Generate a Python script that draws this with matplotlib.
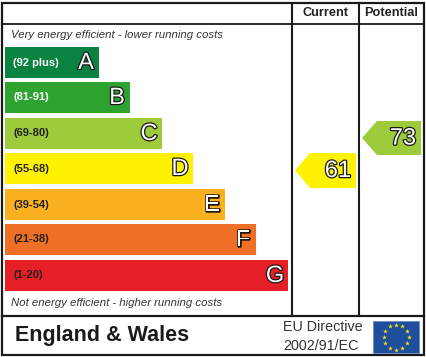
import numpy as np
import matplotlib
matplotlib.use("Agg")
import matplotlib.pyplot as plt
import matplotlib.patheffects as pe
from matplotlib.patches import Polygon, Rectangle

plt.rcParams['font.family'] = ['Liberation Sans', 'DejaVu Sans']

# Bands
letters = ["A", "B", "C", "D", "E", "F", "G"]
ranges = ["(92 plus)", "(81-91)", "(69-80)", "(55-68)", "(39-54)", "(21-38)", "(1-20)"]
bar_right = [99, 130, 162, 193, 225, 256, 288]
bar_top = [47, 82, 118, 153, 189, 224, 260]
colors = ["#0a8341", "#2ea32f", "#9dcb3c", "#fff200", "#fbb11f", "#f06f26", "#e61e26"]
range_colors = ["white", "white", "#222222", "#222222", "#222222", "#222222", "#222222"]

current = 61
potential = 73
current_color = "#fff200"
potential_color = "#9dcb3c"

fig = plt.figure(figsize=(4.26, 3.57), dpi=100)
ax = fig.add_axes([0, 0, 1, 1])
ax.set_xlim(0, 426)
ax.set_ylim(357, 0)
ax.axis("off")

# frame
line_col = "#1a1a1a"
ax.add_patch(Rectangle((1.5, 3), 422, 351.5, fill=False, ec=line_col, lw=1.6))
ax.plot([1.5, 423.5], [24, 24], color=line_col, lw=1.3)
ax.plot([1.5, 423.5], [316, 316], color=line_col, lw=1.6)
ax.plot([292, 292], [3, 316], color=line_col, lw=1.5)
ax.plot([359, 359], [3, 316], color=line_col, lw=1.5)

ax.text(325.5, 13.5, "Current", ha="center", va="center", fontsize=9.2, fontweight="bold", color="#222222")
ax.text(391, 13.5, "Potential", ha="center", va="center", fontsize=9.2, fontweight="bold", color="#222222")

ax.text(11, 34.5, "Very energy efficient - lower running costs", ha="left", va="center",
        fontsize=8.2, style="italic", color="#333333")
ax.text(11, 302.5, "Not energy efficient - higher running costs", ha="left", va="center",
        fontsize=8.2, style="italic", color="#333333")

outline = [pe.withStroke(linewidth=1.8, foreground="#1a1a1a")]

for i, let in enumerate(letters):
    h = 31
    ax.add_patch(Rectangle((5, bar_top[i]), bar_right[i] - 5, h, fc=colors[i], ec="none"))
    ax.text(13, bar_top[i] + h / 2, ranges[i], ha="left", va="center", fontsize=8,
            fontweight="bold", color=range_colors[i])
    ax.text(bar_right[i] - 13, bar_top[i] + h / 2 + 0.5, let, ha="right" if False else "center", va="center",
            fontsize=17, color="white", path_effects=outline)


def arrow(left, right, top, bottom, color, val):
    mid = (top + bottom) / 2
    ax.add_patch(Polygon([(left, mid), (left + 15, top), (right, top), (right, bottom), (left + 15, bottom)],
                         closed=True, fc=color, ec="none"))
    ax.text(right - 18, mid + 0.5, str(val), ha="center", va="center", fontsize=17,
            color="white", path_effects=outline)


arrow(295, 356, 153, 188, current_color, current)
arrow(362, 421, 121, 155, potential_color, potential)

# footer
ax.text(15, 336, "England & Wales", ha="left", va="center", fontsize=15.5, fontweight="bold", color="#1a1a1a")
ax.text(283, 327, "EU Directive", ha="left", va="center", fontsize=10.3, color="#333333")
ax.text(283, 346, "2002/91/EC", ha="left", va="center", fontsize=10.3, color="#333333")

# EU flag
ax.add_patch(Rectangle((373, 321), 46, 32, fc="#1f4e9c", ec="#6d8fc4", lw=0.6))
ang = np.arange(12) * np.pi / 6
ax.scatter(396 + 12.5 * np.cos(ang), 337 + 12.5 * np.sin(ang), marker="*", s=13, c="#f5e11a", linewidths=0, zorder=3)

fig.savefig("out.png", dpi=100)
